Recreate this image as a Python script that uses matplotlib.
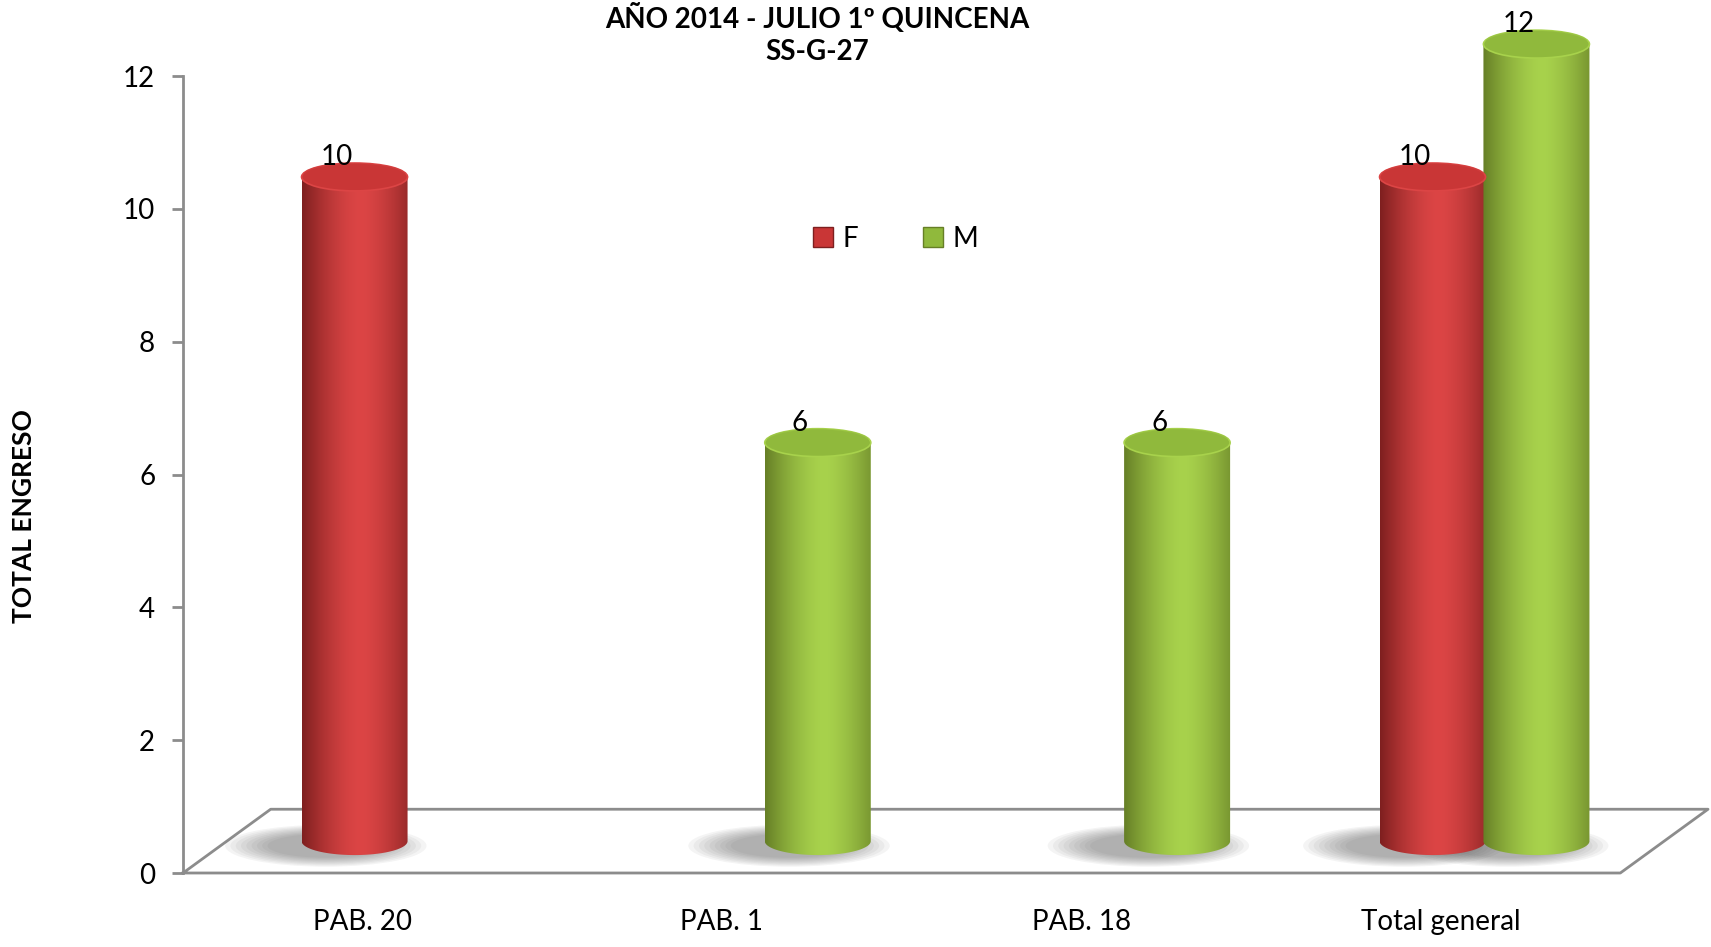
import numpy as np
import matplotlib.pyplot as plt
from matplotlib.patches import Ellipse, PathPatch
from matplotlib.path import Path
from matplotlib.colors import to_rgb
from matplotlib.lines import Line2D

plt.rcParams['font.family'] = ['Lato', 'DejaVu Sans']

categories = ['PAB. 20', 'PAB. 1', 'PAB. 18', 'Total general']
f_values = [10, 0, 0, 10]
m_values = [0, 6, 6, 12]
series = [('F', f_values), ('M', m_values)]
title = 'AÑO 2014 - JULIO 1º QUINCENA\nSS-G-27'
ylabel = 'TOTAL ENGRESO'

# colours: dark edge, light centre, top cap
palette = {
    'F': ('#7e1f1f', '#dc4545', '#c93636'),
    'M': ('#667f26', '#a8d24c', '#90b93c'),
}

# fake 3d geometry (category units / value units)
depth_x, depth_y = 0.244, 0.96
bar_w = 0.295
cap_h = 0.42

W, H = 1711, 947
unit = (873 - 76) / 12  # px per value unit
fig = plt.figure(figsize=(W / 100, H / 100), dpi=100)
ax = fig.add_axes([183 / W, (H - 873) / H, (1708 - 183) / W, 873 / H])
ax.set_xlim(-0.5, 3.5 + depth_x)
ax.set_ylim(0, 873 / unit)
for s in ['top', 'right', 'bottom']:
    ax.spines[s].set_visible(False)
ax.spines['left'].set_color('#8c8c8c')
ax.spines['left'].set_linewidth(2)
ax.spines['left'].set_bounds(0, 12)
ax.set_yticks(range(0, 13, 2))
ax.tick_params(axis='y', length=8, width=2, color='#8c8c8c', pad=12, labelsize=20)
ax.set_xticks([])

# floor
floor_x = [-0.5, 3.5, 3.5 + depth_x, -0.5 + depth_x, -0.5]
floor_y = [0, 0, depth_y, depth_y, 0]
ax.plot(floor_x, floor_y, color='#8c8c8c', lw=2, clip_on=False, zorder=1)

for i, c in enumerate(categories):
    ax.text(i, -0.74, c, ha='center', va='center', fontsize=20)


def gradient(dark, light, n=200):
    d, l = np.array(to_rgb(dark)), np.array(to_rgb(light))
    t = np.linspace(0, 1, n)
    # peak a bit right of centre like a lit cylinder
    w = np.clip(1 - np.abs((t - 0.55) / 0.55) ** 1.6, 0, 1)
    return (d[None, :] * (1 - w[:, None]) + l[None, :] * w[:, None])[None, :, :]


def cylinder(xc, val, name):
    dark, light, cap = palette[name]
    x0, x1 = xc - bar_w / 2, xc + bar_w / 2
    yb = depth_y / 2
    yt = yb + val
    # shadow
    for k in range(9):
        ax.add_patch(Ellipse((xc - 0.08, yb - 0.07), bar_w * (1.9 - k * 0.1), cap_h * (1.5 - k * 0.08),
                             color='#4a4a4a', alpha=0.06, lw=0, zorder=2, clip_on=False))
    th = np.linspace(np.pi, 2 * np.pi, 60)
    ex = xc + bar_w / 2 * np.cos(th)
    ey = yb + cap_h / 2 * np.sin(th)
    verts = [(x0, yt)] + list(zip(ex, ey)) + [(x1, yt), (x0, yt)]
    codes = [Path.MOVETO] + [Path.LINETO] * (len(verts) - 2) + [Path.CLOSEPOLY]
    clip = PathPatch(Path(verts, codes), transform=ax.transData, fc='none', ec='none')
    ax.add_patch(clip)
    im = ax.imshow(gradient(dark, light), extent=(x0, x1, yb - cap_h, yt), aspect='auto',
                   zorder=3, interpolation='bilinear')
    im.set_clip_path(clip)
    ax.add_patch(Ellipse((xc, yt), bar_w, cap_h, fc=cap, ec=light, lw=1.2, zorder=4, clip_on=False))
    ax.add_patch(Ellipse((xc, yt + 0.04), bar_w * 0.96, cap_h * 0.8, fc=cap, ec='none', zorder=4,
                         alpha=0.6, clip_on=False))
    ax.annotate(str(val), (xc - 0.05, yt), xytext=(0, 5), textcoords='offset points',
                ha='center', va='bottom', fontsize=20, annotation_clip=False, zorder=5)


for j, (name, vals) in enumerate(series):
    for i, v in enumerate(vals):
        if v == 0:
            continue
        xc = i + depth_x / 2 + (j - 0.5) * bar_w * 0.98
        cylinder(xc, v, name)

ax.set_xlim(-0.5, 3.5 + depth_x)
ax.set_ylim(0, 873 / unit)

fig.text(817 / W, 1 - 34 / H, title, ha='center', va='center', fontsize=20, fontweight='bold',
         linespacing=1.3)
fig.text(24 / W, 1 - 516 / H, ylabel, rotation=90, ha='center', va='center',
         fontsize=19, fontweight='bold')

handles = [Line2D([], [], ls='none', marker='s', markersize=14, markerfacecolor=palette[n][2],
                  markeredgecolor=palette[n][0], markeredgewidth=1) for n, _ in series]
fig.legend(handles, [n for n, _ in series], loc='center', bbox_to_anchor=(894 / W, 1 - 239 / H),
           ncol=2, frameon=False, fontsize=20, columnspacing=2.2, handletextpad=0.2,
           handlelength=1.0)

fig.savefig('out.png', dpi=100)
